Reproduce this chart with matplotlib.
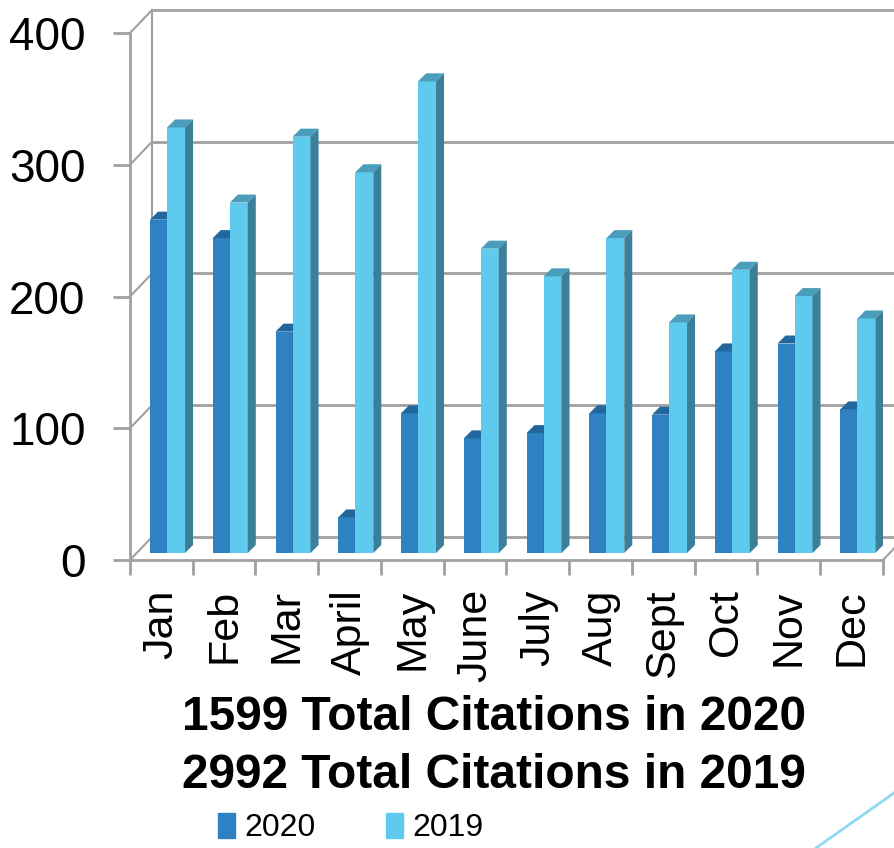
import numpy as np
import matplotlib.pyplot as plt
from matplotlib.patches import Polygon, Patch
from matplotlib.lines import Line2D

months = ['Jan', 'Feb', 'Mar', 'April', 'May', 'June', 'July', 'Aug', 'Sept', 'Oct', 'Nov', 'Dec']
cit_2020 = [253, 239, 168, 27, 106, 87, 91, 106, 105, 153, 159, 109]
cit_2019 = [323, 266, 316, 289, 358, 231, 210, 239, 175, 215, 195, 178]
yticks = [0, 100, 200, 300, 400]
title_lines = ['1599 Total Citations in 2020', '2992 Total Citations in 2019']
series = ['2020', '2019']

# colours: front, top, side
c20 = ('#2E82C2', '#22679C', '#1F5F8F')
c19 = ('#5ECAEE', '#4A9DBB', '#3D7F98')
grid_c = '#A0A0A0'

W, H = 894, 848
fig = plt.figure(figsize=(W / 100, H / 100), dpi=100)
ax = fig.add_axes([130 / W, 288 / H, 753 / W, 527 / H])
ax.set_xlim(0, 12)
ax.set_ylim(0, 400)

# pseudo-3d offsets (data units)
px_x = 753 / 12.0
px_y = 527 / 400.0
wall_dx, wall_dy = 22 / px_x, 23 / px_y
bar_dx, bar_dy = 8 / px_x, 8 / px_y
base = 7 / px_y

# back wall + side wall
for v in yticks:
    ax.plot([wall_dx, 12.3], [v + wall_dy] * 2, color=grid_c, lw=2, clip_on=False, zorder=1)
    ax.plot([0, wall_dx], [v, v + wall_dy], color=grid_c, lw=1.5, clip_on=False, zorder=1)
ax.plot([wall_dx, wall_dx], [wall_dy, 400 + wall_dy], color=grid_c, lw=1.5, clip_on=False, zorder=1)
ax.plot([12, 12 + wall_dx], [0, wall_dy], color=grid_c, lw=1.5, clip_on=False, zorder=1)

x = np.arange(len(months))
w20, w19 = 0.273, 0.285
x20 = x + 0.319
x19 = x20 + w20


def box(xs, vals, w, cols, label):
    bars = ax.bar(xs, vals, w, bottom=base, align='edge', color=cols[0],
                  edgecolor='none', label=label, zorder=3)
    for xi, v in zip(xs, vals):
        top = base + v
        ax.add_patch(Polygon([(xi, top), (xi + w, top), (xi + w + bar_dx, top + bar_dy),
                              (xi + bar_dx, top + bar_dy)], closed=True,
                             facecolor=cols[1], edgecolor='none', zorder=3))
        ax.add_patch(Polygon([(xi + w, base), (xi + w + bar_dx, base + bar_dy),
                              (xi + w + bar_dx, top + bar_dy), (xi + w, top)], closed=True,
                             facecolor=cols[2], edgecolor='none', zorder=3))
    return bars


b20 = box(x20, cit_2020, w20, c20, series[0])
b19 = box(x19, cit_2019, w19, c19, series[1])

for s in ['top', 'right']:
    ax.spines[s].set_visible(False)
for s in ['left', 'bottom']:
    ax.spines[s].set_color(grid_c)
    ax.spines[s].set_linewidth(2)
    ax.spines[s].set_zorder(2)

ax.set_yticks(yticks)
ax.set_yticklabels([str(v) for v in yticks], fontsize=33, family='Liberation Sans')
ax.tick_params(axis='y', length=12, width=2, color=grid_c, pad=20)

ax.set_xticks(np.arange(13))
ax.set_xticklabels([''] * 13)
ax.tick_params(axis='x', which='major', length=11, width=2, color=grid_c)
ax.set_xticks(x + 0.5, minor=True)
ax.set_xticklabels(months, minor=True, rotation=90, fontsize=31, family='Liberation Sans')
ax.tick_params(axis='x', which='minor', length=0, pad=21)

for i, t in enumerate(title_lines):
    fig.text(494 / W, 1 - (718 + 57 * i) / H, t, ha='center', va='center',
             fontsize=34.5, fontweight='bold', family='Liberation Sans')

handles = [Patch(color=c20[0]), Patch(color=c19[0])]
fig.legend(handles, series, loc='center', bbox_to_anchor=(351 / W, 1 - 828 / H),
           ncol=2, frameon=False, prop={'family': 'Liberation Sans', 'size': 23},
           handlelength=0.53, handleheight=0.82, handletextpad=0.3, columnspacing=2.2,
           borderpad=0)

fig.add_artist(Line2D([816 / W, 1.0], [0.0, 1 - 793 / H], color='#8ED8F0', lw=2))

fig.savefig('out.png', dpi=100)
